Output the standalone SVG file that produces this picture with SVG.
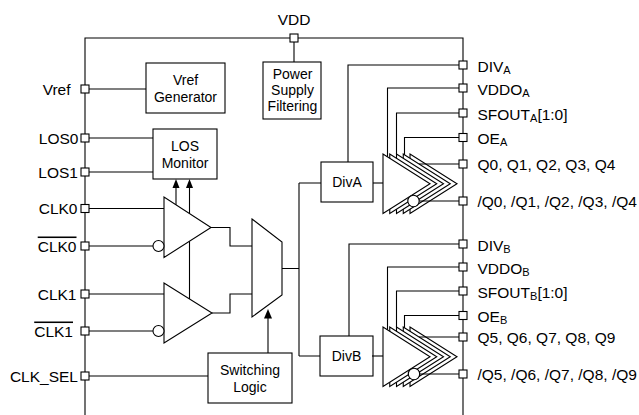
<svg xmlns="http://www.w3.org/2000/svg" width="639" height="415" viewBox="0 0 639 415">
<style>
.ln{fill:none;stroke:#000;stroke-width:1.1}
.bx{fill:#fff;stroke:#000;stroke-width:1.1}
.pin{fill:#fff;stroke:#000;stroke-width:1.1}
.ah{fill:#000;stroke:none}
text{font-family:"Liberation Sans",Arial,sans-serif;fill:#000}
.pl{font-size:15.5px}
.bl{font-size:14px;text-anchor:middle}
.l{text-anchor:end}
.sub{font-size:11px}
</style>
<rect width="639" height="415" fill="#fff"/>
<g id="chip">
<path class="ln" d="M85,415 V38 H463 V415"/>
</g>
<g id="vref-gen"><rect class="bx" x="146" y="63" width="79" height="50"/><text class="bl" x="185.5" y="85">Vref</text><text class="bl" x="185.5" y="102">Generator</text></g>
<g id="psf"><rect class="bx" x="263" y="62" width="58" height="57"/><text class="bl" x="292.5" y="79">Power</text><text class="bl" x="292.5" y="95">Supply</text><text class="bl" x="292.5" y="111">Filtering</text></g>
<g id="los-mon"><rect class="bx" x="153" y="129" width="64" height="50"/><text class="bl" x="185" y="150.5">LOS</text><text class="bl" x="185" y="167.5">Monitor</text></g>
<g id="switch"><rect class="bx" x="208" y="353" width="84" height="50"/><text class="bl" x="250" y="375">Switching</text><text class="bl" x="250" y="392">Logic</text></g>
<g id="comp0"><polygon class="bx" points="164,197 164,257.5 211,227.5"/><circle class="bx" cx="158.5" cy="246" r="5.5"/></g>
<g id="comp1"><polygon class="bx" points="164,283 164,343 212,313"/><circle class="bx" cx="158.5" cy="331" r="5.5"/></g>
<g id="mux"><polygon class="bx" points="252,219 282,242 282,295 252,317"/></g>
<g id="divA"><rect class="bx" x="321" y="162" width="52" height="40"/><text class="bl" x="347" y="187">DivA</text></g>
<g id="divB"><rect class="bx" x="320" y="336" width="53" height="40"/><text class="bl" x="346.5" y="361">DivB</text></g>
<g id="bufA">
<polygon class="bx" points="410,154 410,213.5 457,183.75"/>
<polygon class="bx" points="403.25,154 403.25,213.5 450.25,183.75"/>
<polygon class="bx" points="396.5,154 396.5,213.5 443.5,183.75"/>
<polygon class="bx" points="389.75,154 389.75,213.5 436.75,183.75"/>
<polygon class="bx" points="383,154 383,213.5 430,183.75"/>
<circle class="bx" cx="413.5" cy="201" r="5.7"/>
</g>
<g id="bufB">
<polygon class="bx" points="410,327 410,386.5 457,356.75"/>
<polygon class="bx" points="403.25,327 403.25,386.5 450.25,356.75"/>
<polygon class="bx" points="396.5,327 396.5,386.5 443.5,356.75"/>
<polygon class="bx" points="389.75,327 389.75,386.5 436.75,356.75"/>
<polygon class="bx" points="383,327 383,386.5 430,356.75"/>
<circle class="bx" cx="414" cy="374" r="5.7"/>
</g>
<g id="connectors">
<path class="ln" d="M294,38 V62"/>
<path class="ln" d="M89,89 H146"/>
<path class="ln" d="M89,138 H153"/>
<path class="ln" d="M89,172 H153"/>
<path class="ln" d="M176,204.8 V187"/>
<path class="ln" d="M189.5,213.5 V187 M189.5,241.2 V298.9"/>
<polygon class="ah" points="172.5,188 179.5,188 176,179"/>
<polygon class="ah" points="186,188 193,188 189.5,179"/>
<path class="ln" d="M89,208.5 H164"/>
<path class="ln" d="M89,246 H153"/>
<path class="ln" d="M89,294 H164"/>
<path class="ln" d="M89,331 H153"/>
<path class="ln" d="M211,227.5 H230 V246 H252"/>
<path class="ln" d="M212,313 H230 V294 H252"/>
<path class="ln" d="M282,268.5 H299 M299,183 V356 M299,183 H321 M299,356 H320"/>
<path class="ln" d="M89,376 H208"/>
<path class="ln" d="M268,353 V317"/>
<polygon class="ah" points="264,318.5 272,318.5 268,309"/>
<path class="ln" d="M373,183 H383"/>
<path class="ln" d="M348,162 V65 H459"/>
<path class="ln" d="M459,88 H387.5 V156.8"/>
<path class="ln" d="M459,113 H396.5 V154"/>
<path class="ln" d="M459,137.5 H404.5 V154.8"/>
<path class="ln" d="M419,164 H459"/>
<path class="ln" d="M419.2,201 H459"/>
<path class="ln" d="M372,356 H383"/>
<path class="ln" d="M349,336 V244 H459"/>
<path class="ln" d="M459,267 H387.5 V329.8"/>
<path class="ln" d="M459,291 H396.5 V327"/>
<path class="ln" d="M459,315.5 H404.5 V327.8"/>
<path class="ln" d="M419,337 H459"/>
<path class="ln" d="M419.7,374 H459"/>
</g>
<g id="pins">
<rect class="pin" x="290" y="34" width="8" height="8"/>
<rect class="pin" x="81" y="85" width="8" height="8"/>
<rect class="pin" x="81" y="134" width="8" height="8"/>
<rect class="pin" x="81" y="168" width="8" height="8"/>
<rect class="pin" x="81" y="204.5" width="8" height="8"/>
<rect class="pin" x="81" y="242" width="8" height="8"/>
<rect class="pin" x="81" y="290" width="8" height="8"/>
<rect class="pin" x="81" y="327" width="8" height="8"/>
<rect class="pin" x="81" y="372" width="8" height="8"/>
<rect class="pin" x="459" y="61" width="8" height="8"/>
<rect class="pin" x="459" y="84" width="8" height="8"/>
<rect class="pin" x="459" y="109" width="8" height="8"/>
<rect class="pin" x="459" y="133.5" width="8" height="8"/>
<rect class="pin" x="459" y="160" width="8" height="8"/>
<rect class="pin" x="459" y="197" width="8" height="8"/>
<rect class="pin" x="459" y="240" width="8" height="8"/>
<rect class="pin" x="459" y="263" width="8" height="8"/>
<rect class="pin" x="459" y="287" width="8" height="8"/>
<rect class="pin" x="459" y="311.5" width="8" height="8"/>
<rect class="pin" x="459" y="333" width="8" height="8"/>
<rect class="pin" x="459" y="370" width="8" height="8"/>
</g>
<g id="labels">
<text class="pl" x="294" y="25" text-anchor="middle">VDD</text>
<text class="pl l" x="70.5" y="94.5">Vref</text>
<text class="pl l" x="78.5" y="143.5">LOS0</text>
<text class="pl l" x="78" y="177.5">LOS1</text>
<text class="pl l" x="77.5" y="214">CLK0</text>
<text class="pl l" x="76.5" y="251.5" text-decoration="overline">CLK0</text>
<text class="pl l" x="76.5" y="299.5">CLK1</text>
<text class="pl l" x="73" y="336.5" text-decoration="overline">CLK1</text>
<text class="pl l" x="78" y="381.5">CLK_SEL</text>
<text class="pl" x="477.5" y="71.5">DIV<tspan class="sub" dy="2">A</tspan></text>
<text class="pl" x="477.5" y="94.5">VDDO<tspan class="sub" dy="2">A</tspan></text>
<text class="pl" x="477.5" y="119.5">SFOUT<tspan class="sub" dy="2">A</tspan><tspan dy="-2">[1:0]</tspan></text>
<text class="pl" x="477.5" y="144">OE<tspan class="sub" dy="2">A</tspan></text>
<text class="pl" x="477.5" y="169.5">Q0, Q1, Q2, Q3, Q4</text>
<text class="pl" x="477.5" y="206.5">/Q0, /Q1, /Q2, /Q3, /Q4</text>
<text class="pl" x="477.5" y="250.5">DIV<tspan class="sub" dy="2">B</tspan></text>
<text class="pl" x="477.5" y="273.5">VDDO<tspan class="sub" dy="2">B</tspan></text>
<text class="pl" x="477.5" y="297.5">SFOUT<tspan class="sub" dy="2">B</tspan><tspan dy="-2">[1:0]</tspan></text>
<text class="pl" x="477.5" y="322">OE<tspan class="sub" dy="2">B</tspan></text>
<text class="pl" x="477.5" y="342.5">Q5, Q6, Q7, Q8, Q9</text>
<text class="pl" x="477.5" y="379.5">/Q5, /Q6, /Q7, /Q8, /Q9</text>
</g>
</svg>
